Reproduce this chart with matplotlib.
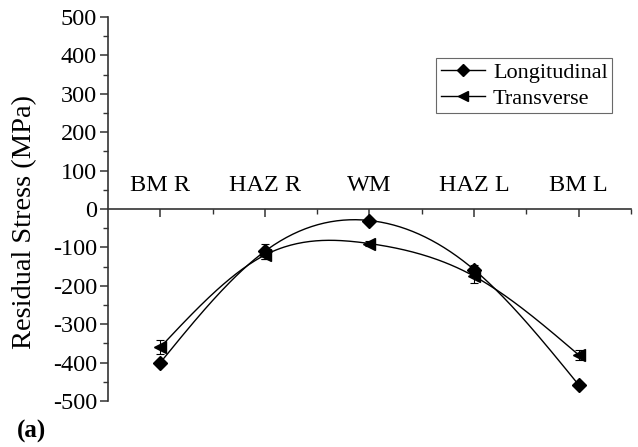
import numpy as np
import matplotlib
matplotlib.use("Agg")
from matplotlib import pyplot as plt
from matplotlib.ticker import MultipleLocator, FixedLocator

plt.rcParams['font.family'] = ['Liberation Serif', 'DejaVu Serif']
plt.rcParams['axes.unicode_minus'] = False

# Data
zones = ["BM R", "HAZ R", "WM", "HAZ L", "BM L"]
longitudinal = [-400, -110, -30, -158, -458]
longitudinal_err = [8, 20, 6, 12, 6]
transverse = [-360, -120, -90, -175, -380]
transverse_err = [18, 10, 6, 17, 12]


def _natural_spline(x, y, num=200):
    """Natural cubic spline through the points, used only to draw the connecting line."""
    x = np.asarray(x, float)
    y = np.asarray(y, float)
    n = len(x)
    h = np.diff(x)
    A = np.zeros((n, n))
    b = np.zeros(n)
    A[0, 0] = A[-1, -1] = 1
    for i in range(1, n - 1):
        A[i, i - 1] = h[i - 1]
        A[i, i] = 2 * (h[i - 1] + h[i])
        A[i, i + 1] = h[i]
        b[i] = 3 * ((y[i + 1] - y[i]) / h[i] - (y[i] - y[i - 1]) / h[i - 1])
    c = np.linalg.solve(A, b)
    xs = np.linspace(x[0], x[-1], num)
    ys = np.empty_like(xs)
    for k, xv in enumerate(xs):
        i = min(np.searchsorted(x, xv, side='right') - 1, n - 2)
        bi = (y[i + 1] - y[i]) / h[i] - h[i] * (2 * c[i] + c[i + 1]) / 3
        di = (c[i + 1] - c[i]) / (3 * h[i])
        dx = xv - x[i]
        ys[k] = y[i] + bi * dx + c[i] * dx ** 2 + di * dx ** 3
    return xs, ys


fig = plt.figure(figsize=(6.38, 4.47), dpi=100)
ax = fig.add_axes([0.1693, 0.1029, 0.8197, 0.8591])

x = np.arange(1, len(zones) + 1)

xs, ys = _natural_spline(x, longitudinal)
ax.plot(xs, ys, color='black', lw=1.0)
xs, ys = _natural_spline(x, transverse)
ax.plot(xs, ys, color='black', lw=1.0)

ax.errorbar(x, longitudinal, yerr=longitudinal_err, fmt='D', color='black',
            ms=7.5, capsize=3, elinewidth=0.8, capthick=0.8)
ax.errorbar(x, transverse, yerr=transverse_err, fmt='<', color='black',
            ms=9, capsize=3, elinewidth=0.8, capthick=0.8)

# legend handles
ax.plot([], [], '-D', color='black', ms=6, lw=1.0, label='Longitudinal')
ax.plot([], [], '-<', color='black', ms=7, lw=1.0, label='Transverse')
handles, labels = ax.get_legend_handles_labels()
leg = ax.legend(handles[-2:], labels[-2:], loc='upper right',
                bbox_to_anchor=(0.964, 0.893), fontsize=16, frameon=True,
                fancybox=False, edgecolor='#444444', handlelength=2.0,
                handletextpad=0.35, borderpad=0.2, labelspacing=0.22,
                borderaxespad=0)
leg.get_frame().set_linewidth(0.8)

for xi, name in zip(x, zones):
    ax.text(xi, 60, name, ha='center', va='center', fontsize=17.5)

ax.set_xlim(0.5, 5.5)
ax.set_ylim(-500, 500)
ax.spines['top'].set_visible(False)
ax.spines['right'].set_visible(False)
ax.spines['bottom'].set_position(('data', 0))
ax.spines['left'].set_linewidth(1.2)
ax.spines['bottom'].set_linewidth(1.2)
ax.spines['left'].set_color('#333333')
ax.spines['bottom'].set_color('#333333')

ax.xaxis.set_major_locator(FixedLocator(x))
ax.xaxis.set_minor_locator(FixedLocator(np.arange(1.5, 6.0, 1.0)))
ax.set_xticklabels([])
ax.yaxis.set_major_locator(MultipleLocator(100))
ax.yaxis.set_minor_locator(MultipleLocator(50))
ax.tick_params(axis='both', which='major', length=6, width=1.1, color='#333333',
               labelsize=17.5)
ax.tick_params(axis='both', which='minor', length=3.5, width=1.0, color='#333333')
ax.tick_params(axis='y', pad=2)

ax.set_ylabel('Residual Stress (MPa)', fontsize=20.5)
ax.yaxis.set_label_coords(-0.136, 0.466)

fig.text(0.026, 0.02, '(a)', fontsize=18, fontweight='bold')

fig.savefig('out.png', dpi=100)
